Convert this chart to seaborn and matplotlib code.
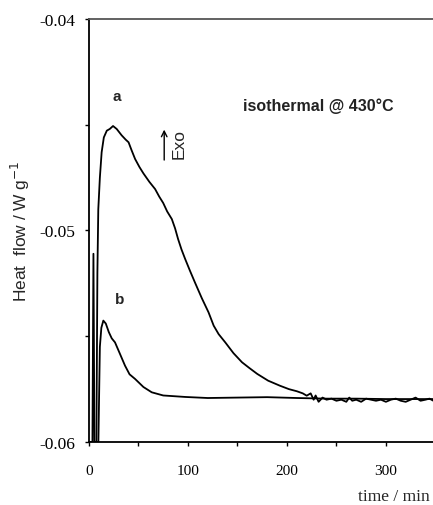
import numpy as np
import pandas as pd
import matplotlib
matplotlib.use("Agg")
import matplotlib.pyplot as plt
import seaborn as sns

# ---- data ----
time_a = [6, 7.5, 8.5, 9.4, 11, 12.8, 15, 18, 21, 24.3, 28, 33, 37, 40, 43, 46.6, 51,
          55, 61, 66.8, 71, 75, 79, 83.7, 87, 90, 93.5, 97.2, 102, 107, 114, 120.8,
          126, 131, 137.7, 146, 154.6, 162, 170, 181, 193, 202, 210, 216, 220,
          224, 227, 229, 232, 236, 240, 245, 250, 255, 260, 263, 266, 270, 275, 280,
          285, 290, 295, 300, 305, 310, 315, 320, 325, 330, 335, 340, 344, 348]
flow_a = [-0.0600, -0.0600, -0.0520, -0.0490, -0.0475, -0.0463, -0.0456, -0.04528,
          -0.0452, -0.04506, -0.0452, -0.0455, -0.0457, -0.04583, -0.0462, -0.04662,
          -0.0470, -0.0473, -0.0477, -0.04804, -0.0484, -0.0487, -0.0491, -0.04946,
          -0.0499, -0.0504, -0.0509, -0.05135, -0.0519, -0.05245, -0.0532, -0.05387,
          -0.0545, -0.0549, -0.05529, -0.0558, -0.05623, -0.0565, -0.05678, -0.0571,
          -0.05734, -0.0575, -0.0576, -0.0577, -0.05781,
          -0.05770, -0.05800, -0.05780, -0.05810, -0.05790, -0.05800, -0.05795, -0.05805,
          -0.05800, -0.05810, -0.05790, -0.05805, -0.05800, -0.05810, -0.05795, -0.05800,
          -0.05805, -0.05800, -0.05810, -0.05800, -0.05795, -0.05805, -0.05810, -0.05800,
          -0.05790, -0.05805, -0.05800, -0.05795, -0.05805]
time_b = [0, 3.5, 4.5, 5.5, 8, 9.5, 11, 12.5, 14.5, 17, 20, 23, 26.3, 31, 36.4, 41,
          46.6, 55, 63.4, 75, 97.2, 120, 150, 180, 210, 240, 270, 300, 330, 348]
flow_b = [-0.0600, -0.0600, -0.0511, -0.0600, -0.0600, -0.0600, -0.0555, -0.0546,
          -0.05426, -0.0544, -0.0548, -0.0551, -0.05529, -0.0558, -0.05639, -0.0568,
          -0.05702, -0.0574, -0.05765, -0.0578, -0.05787, -0.05792, -0.0579, -0.05788,
          -0.05792, -0.05795, -0.05795, -0.05797, -0.05797, -0.05797]

x_ticks = [0, 100, 200, 300]
y_ticks = [-0.06, -0.05, -0.04]
y_tick_labels = ["-0.06", "-0.05", "-0.04"]

df = pd.concat([
    pd.DataFrame({"time": time_a, "flow": flow_a, "sample": "a"}),
    pd.DataFrame({"time": time_b, "flow": flow_b, "sample": "b"}),
])

sns.set_style("ticks")
plt.rcParams["font.family"] = ["Liberation Serif", "DejaVu Sans"]

fig = plt.figure(figsize=(4.33, 5.06), dpi=100)
ax = fig.add_axes([0.2055, 0.1245, 0.80, 0.836])

sns.lineplot(data=df, x="time", y="flow", units="sample", estimator=None,
             sort=False, color="black", linewidth=1.3, ax=ax, legend=False)

ax.set_xlim(0, 348)
ax.set_ylim(-0.06, -0.04)
ax.set_xticks(x_ticks)
ax.set_xticks([50, 150, 250, 350], minor=True)
ax.set_yticks(y_ticks)
ax.set_yticklabels(y_tick_labels)
ax.set_yticks([-0.055, -0.045], minor=True)
ax.tick_params(axis="both", which="both", direction="out", length=3, width=1,
               colors="black")
ax.tick_params(axis="x", labelsize=11, pad=13)
ax.tick_params(axis="y", labelsize=12.5, pad=7)

for s in ["left", "bottom"]:
    ax.spines[s].set_color("black")
    ax.spines[s].set_linewidth(1.3)
ax.spines["top"].set_color("#555555")
ax.spines["top"].set_linewidth(1.3)
ax.spines["right"].set_visible(False)

ax.set_xlabel("")
ax.set_ylabel("Heat  flow / W g$^{-1}$", family="Liberation Sans", fontsize=12.5)
ax.yaxis.set_label_coords(-0.165, 0.5)

fig.text(0.993, 0.018, "time / min", ha="right", va="center", fontsize=12.5,
         family="Liberation Serif")

ax.text(28.5, -0.04365, "a", ha="center", va="center", fontsize=11,
        fontweight="bold", family="Liberation Sans")
ax.text(30.5, -0.05325, "b", ha="center", va="center", fontsize=11,
        fontweight="bold", family="Liberation Sans")
ax.text(156, -0.0441, "isothermal @ 430°C", ha="left", va="center",
        fontsize=11.5, fontweight="bold", family="Liberation Sans", color="#222222")
ax.annotate("", xy=(76, -0.0451), xytext=(76, -0.0468),
            arrowprops=dict(arrowstyle="->", color="black", lw=1))
ax.text(91, -0.04585, "Exo", rotation=90, ha="center", va="center",
        fontsize=12.5, family="Liberation Sans")

fig.savefig("out.png", dpi=100)
